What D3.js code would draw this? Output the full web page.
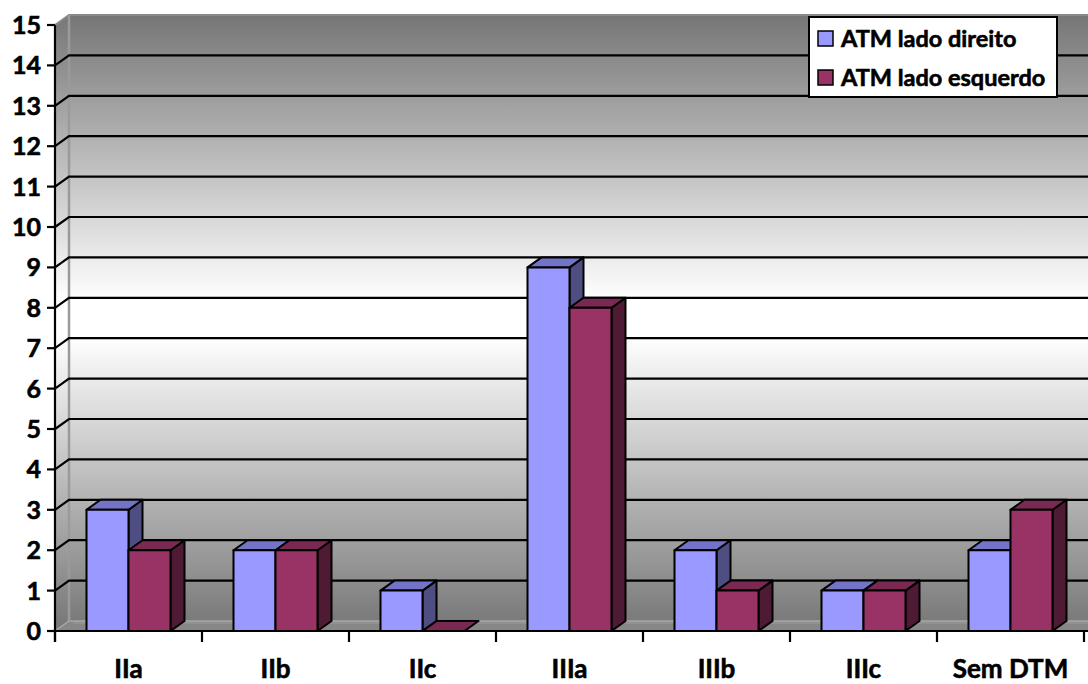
<!DOCTYPE html>
<html>
<head>
<meta charset="utf-8">
<script src="https://cdn.jsdelivr.net/npm/d3@7"></script>
<style>
  html, body { margin: 0; padding: 0; background: #fff; }
  svg { display: block; }
  text { font-family: Lato, "Open Sans", sans-serif; font-weight: bold; fill: #000; stroke: #000; stroke-width: 0.6px; }
</style>
</head>
<body>
<svg id="chart" width="1088" height="684"></svg>
<script>
// Categories and series values
const categories = ["IIa", "IIb", "IIc", "IIIa", "IIIb", "IIIc", "Sem DTM"];
const seriesNames = ["ATM lado direito", "ATM lado esquerdo"];
const direito = [3, 2, 1, 9, 2, 1, 2];
const esquerdo = [2, 2, 0, 8, 1, 1, 3];
const yTicks = [0, 1, 2, 3, 4, 5, 6, 7, 8, 9, 10, 11, 12, 13, 14, 15];

const seriesData = [direito, esquerdo];
const colors = [
  { front: "#9999FF", top: "#7373C8", side: "#4E4E82" },
  { front: "#993366", top: "#7A2952", side: "#4E1A34" }
];

const W = 1088, H = 684;
const left = 55, right = 1084, base = 631, topY = 25;
const DX = 14, DY = -10; // depth offset of the 3D box

const svg = d3.select("#chart");

const y = d3.scaleLinear().domain([0, 15]).range([base, topY]);
const x = d3.scaleBand().domain(categories).range([left, right])
  .paddingInner(63 / 147).paddingOuter(63 / 147 / 2);
const x1 = d3.scaleBand().domain(seriesNames).range([0, x.bandwidth()]);
const xStep = d3.scaleBand().domain(categories).range([left, right]);

// wall gradient
const defs = svg.append("defs");
const grad = defs.append("linearGradient").attr("id", "wallGrad")
  .attr("gradientUnits", "userSpaceOnUse")
  .attr("x1", 0).attr("x2", 0).attr("y1", y(15) + DY).attr("y2", y(0) + DY);
[[0, "#767676"], [0.47, "#ffffff"], [0.53, "#ffffff"], [1, "#7a7a7a"]].forEach(([o, c]) =>
  grad.append("stop").attr("offset", o).attr("stop-color", c));

const g = svg.append("g");

// back wall
g.append("rect")
  .attr("x", left + DX).attr("y", y(15) + DY)
  .attr("width", W - (left + DX) + 20).attr("height", y(0) - y(15))
  .attr("fill", "url(#wallGrad)");

// side wall
g.append("path")
  .attr("d", `M${left},${y(15)} L${left + DX},${y(15) + DY} L${left + DX},${y(0) + DY} L${left},${y(0)} Z`)
  .attr("fill", "url(#wallGrad)");

// floor
g.append("path")
  .attr("d", `M${left},${y(0)} L${left + DX},${y(0) + DY} L${W + 20},${y(0) + DY} L${W + 20},${y(0)} Z`)
  .attr("fill", "#878787");
g.append("line")
  .attr("x1", left + DX).attr("x2", W).attr("y1", y(0) + DY).attr("y2", y(0) + DY)
  .attr("stroke", "#a8a8a8").attr("stroke-width", 1.5);
g.append("line")
  .attr("x1", left + DX + 4).attr("x2", W).attr("y1", y(0) + DY + 2).attr("y2", y(0) + DY + 2)
  .attr("stroke", "#9c9c9c").attr("stroke-width", 1);

// wall edges
g.append("path")
  .attr("d", `M${left},${y(15)} L${left + DX},${y(15) + DY} L${W + 5},${y(15) + DY}`)
  .attr("fill", "none").attr("stroke", "#8a8a8a").attr("stroke-width", 2);
g.append("line")
  .attr("x1", left + DX).attr("x2", left + DX).attr("y1", y(15) + DY).attr("y2", y(0) + DY)
  .attr("stroke", "#9a9a9a").attr("stroke-width", 2.5);
g.append("line")
  .attr("x1", left).attr("x2", left + DX).attr("y1", y(0)).attr("y2", y(0) + DY)
  .attr("stroke", "#a8a8a8").attr("stroke-width", 1.5);

// gridlines
const grid = yTicks.filter(v => v > 0 && v < 15);
g.selectAll(".grid").data(grid).join("path")
  .attr("class", "grid")
  .attr("d", v => `M${left},${y(v)} L${left + DX},${y(v) + DY} L${W + 5},${y(v) + DY}`)
  .attr("fill", "none").attr("stroke", "#000").attr("stroke-width", 2.2);

// bars
const bars = [];
categories.forEach((c, i) => {
  seriesNames.forEach((s, k) => {
    bars.push({ cat: c, series: s, k, value: seriesData[k][i] });
  });
});

const barG = g.selectAll(".bar").data(bars).join("g").attr("class", "bar");
barG.each(function (d) {
  const sel = d3.select(this);
  const x0 = x(d.cat) + x1(d.series);
  const w = x1.bandwidth();
  const yv = y(d.value), y0 = y(0);
  const col = colors[d.k];
  const stroke = { stroke: "#000", "stroke-width": 2, "stroke-linejoin": "round" };
  const apply = p => { Object.entries(stroke).forEach(([a, v]) => p.attr(a, v)); return p; };
  // side face
  if (d.value > 0) {
    apply(sel.append("path")
      .attr("d", `M${x0 + w},${yv} L${x0 + w + DX},${yv + DY} L${x0 + w + DX},${y0 + DY} L${x0 + w},${y0} Z`)
      .attr("fill", col.side));
  }
  // top face
  apply(sel.append("path")
    .attr("d", `M${x0},${yv} L${x0 + DX},${yv + DY} L${x0 + w + DX},${yv + DY} L${x0 + w},${yv} Z`)
    .attr("fill", col.top));
  // front face
  if (d.value > 0) {
    apply(sel.append("rect")
      .attr("x", x0).attr("y", yv).attr("width", w).attr("height", y0 - yv)
      .attr("fill", col.front));
  }
});

// axes
const axisG = svg.append("g");
axisG.append("line")
  .attr("x1", left).attr("x2", left).attr("y1", y(15)).attr("y2", base + 11)
  .attr("stroke", "#000").attr("stroke-width", 2.2);
axisG.append("line")
  .attr("x1", left - 8).attr("x2", W).attr("y1", base).attr("y2", base)
  .attr("stroke", "#000").attr("stroke-width", 2.2);

// y ticks & labels
axisG.selectAll(".yt").data(yTicks).join("line")
  .attr("class", "yt")
  .attr("x1", left - 8).attr("x2", left).attr("y1", d => y(d)).attr("y2", d => y(d))
  .attr("stroke", "#000").attr("stroke-width", 2.2);
axisG.selectAll(".yl").data(yTicks).join("text")
  .attr("class", "yl")
  .attr("x", 41).attr("y", d => y(d))
  .attr("dy", "0.36em")
  .attr("text-anchor", "end")
  .attr("font-size", 25)
  .text(d => d);

// x ticks at category boundaries
const bounds = categories.map(c => xStep(c)).concat([right]);
axisG.selectAll(".xt").data(bounds).join("line")
  .attr("class", "xt")
  .attr("x1", d => d).attr("x2", d => d).attr("y1", base).attr("y2", base + 11)
  .attr("stroke", "#000").attr("stroke-width", 2.2);
axisG.selectAll(".xl").data(categories).join("text")
  .attr("class", "xl")
  .attr("x", c => xStep(c) + xStep.bandwidth() / 2)
  .attr("y", 678)
  .attr("text-anchor", "middle")
  .attr("font-size", 26)
  .text(c => c);

// legend
const lg = svg.append("g");
lg.append("rect")
  .attr("x", 809).attr("y", 17).attr("width", 248).attr("height", 80)
  .attr("fill", "#fff").attr("stroke", "#000").attr("stroke-width", 2);
const items = lg.selectAll(".li").data(seriesNames).join("g")
  .attr("class", "li")
  .attr("transform", (d, i) => `translate(0, ${i * 39})`);
items.append("rect")
  .attr("x", 818).attr("y", 31).attr("width", 15).attr("height", 15)
  .attr("fill", (d, i) => colors[i].front)
  .attr("stroke", "#000").attr("stroke-width", 1.5);
items.append("text")
  .attr("x", 841).attr("y", 46.5)
  .attr("font-size", 23.5)
  .text(d => d);
</script>
</body>
</html>
